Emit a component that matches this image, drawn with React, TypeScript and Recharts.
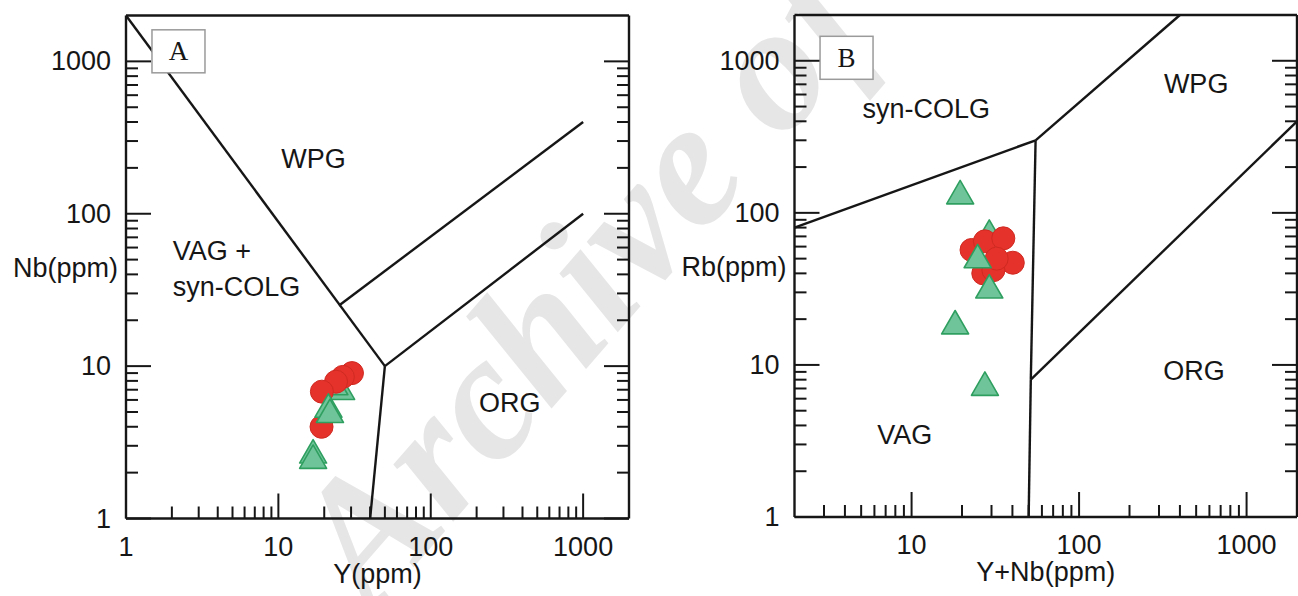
import { ReferenceDot, ReferenceLine, Scatter, ScatterChart, XAxis, YAxis } from "recharts";

const INK = "#161616";
const SANS = "'Liberation Sans', Arial, Helvetica, sans-serif";
const SERIF = "'Liberation Serif', 'Times New Roman', serif";
const FONT_SIZE = 27;

// tick values on the log axes
const ticksFrom1 = [1, 2, 3, 4, 5, 6, 7, 8, 9, 10, 20, 30, 40, 50, 60, 70, 80, 90, 100, 200, 300, 400, 500, 600, 700, 800, 900, 1000];
const ticksFrom3 = [3, 4, 5, 6, 7, 8, 9, 10, 20, 30, 40, 50, 60, 70, 80, 90, 100, 200, 300, 400, 500, 600, 700, 800, 900, 1000];
const majorTicks = [1, 10, 100, 1000];

// A: Nb vs Y
const nbYBoundaries = [
  [[1, 2000], [50, 10]],
  [[50, 10], [40, 1]],
  [[50, 10], [1000, 100]],
  [[25, 25], [1000, 400]],
];
const nbYRegions = [
  { text: "WPG", x: 17, y: 200, anchor: "middle" },
  { text: "VAG +", x: 2.03, y: 50, anchor: "start" },
  { text: "syn-COLG", x: 2.03, y: 29, anchor: "start" },
  { text: "ORG", x: 330, y: 5, anchor: "middle" },
];
const nbYCircles = [
  { x: 30.4, y: 9.0 },
  { x: 26.5, y: 8.5 },
  { x: 23.9, y: 7.9 },
  { x: 19.3, y: 6.8 },
  { x: 19.2, y: 4.0 },
];
const nbYTrianglesBack = [
  { x: 25.8, y: 6.8 },
  { x: 23.3, y: 7.3 },
];
const nbYTrianglesFront = [
  { x: 21.3, y: 5.2 },
  { x: 21.8, y: 4.8 },
  { x: 16.9, y: 2.6 },
  { x: 16.9, y: 2.4 },
];

// B: Rb vs Y+Nb
const rbBoundaries = [
  [[2, 80], [55, 300]],
  [[55, 300], [400, 2000]],
  [[55, 300], [51.5, 8]],
  [[51.5, 8], [50, 1]],
  [[51.5, 8], [2000, 400]],
];
const rbRegions = [
  { text: "syn-COLG", x: 5.1, y: 420, anchor: "start" },
  { text: "WPG", x: 500, y: 615, anchor: "middle" },
  { text: "VAG", x: 9.1, y: 3, anchor: "middle" },
  { text: "ORG", x: 485, y: 8, anchor: "middle" },
];
const rbCircles = [
  { x: 22.8, y: 57 },
  { x: 27.4, y: 65 },
  { x: 35.3, y: 68 },
  { x: 40.2, y: 47 },
  { x: 26.8, y: 40 },
  { x: 30.8, y: 42 },
  { x: 32.2, y: 50 },
];
const rbTrianglesBack = [{ x: 29.1, y: 71 }];
const rbTrianglesFront = [
  { x: 19.5, y: 129 },
  { x: 24.8, y: 49 },
  { x: 29.1, y: 31 },
  { x: 18.2, y: 18 },
  { x: 27.4, y: 7.1 },
];

const AXIS_LINE = { stroke: INK, strokeWidth: 2.4 };

function tickLength(value: number) {
  return majorTicks.includes(value) ? 25 : 12;
}

function BottomTick({ x, y, payload }: any) {
  const v = payload.value;
  return (
    <g>
      <line x1={x} x2={x} y1={y} y2={y - tickLength(v)} stroke={INK} strokeWidth={2} />
      {majorTicks.includes(v) && (
        <text x={x} y={y + 37} textAnchor="middle" fontFamily={SANS} fontSize={FONT_SIZE} fill={INK}>
          {String(v)}
        </text>
      )}
    </g>
  );
}

function TopTick({ x, y, payload }: any) {
  return <line x1={x} x2={x} y1={y} y2={y + tickLength(payload.value)} stroke={INK} strokeWidth={2} />;
}

function LeftTick({ x, y, payload }: any) {
  const v = payload.value;
  return (
    <g>
      <line x1={x} x2={x + tickLength(v)} y1={y} y2={y} stroke={INK} strokeWidth={2} />
      {majorTicks.includes(v) && (
        <text x={x - 15} y={y} textAnchor="end" dominantBaseline="central" fontFamily={SANS} fontSize={FONT_SIZE} fill={INK}>
          {String(v)}
        </text>
      )}
    </g>
  );
}

function RightTick({ x, y, payload }: any) {
  return <line x1={x} x2={x - tickLength(payload.value)} y1={y} y2={y} stroke={INK} strokeWidth={2} />;
}

function CircleMark({ cx, cy }: any) {
  return <circle cx={cx} cy={cy} r={11.5} fill="#e5322a" stroke="#cf2a22" strokeWidth={1} />;
}

function TriangleMark({ cx, cy }: any) {
  const w = 27;
  const h = 23.4;
  return (
    <path
      d={`M${cx},${cy - (2 * h) / 3} L${cx + w / 2},${cy + h / 3} L${cx - w / 2},${cy + h / 3} Z`}
      fill="#70c499"
      stroke="#2f9f60"
      strokeWidth={1.6}
      strokeLinejoin="round"
    />
  );
}

function TagBox({ cx, cy, label }: any) {
  return (
    <g>
      <rect x={cx - 26.5} y={cy - 21.5} width={53} height={43} fill="#fff" stroke="#9a9a9a" strokeWidth={1.5} />
      <text x={cx} y={cy + 9} textAnchor="middle" fontFamily={SERIF} fontSize={27} fill={INK}>
        {label}
      </text>
    </g>
  );
}

function DiagramPanel(props: any) {
  const { left, width, margin, xDomain, xTicks, xTitle, yTitle, tag, tagAt, boundaries, regions } = props;
  const yDomain = [1, 2000];
  return (
    <div style={{ position: "absolute", left, top: 0 }}>
      <ScatterChart width={width} height={596} margin={margin}>
        <XAxis
          dataKey="x"
          type="number"
          scale="log"
          domain={xDomain}
          allowDataOverflow
          ticks={xTicks}
          interval={0}
          tickLine={false}
          tickSize={0}
          tickMargin={0}
          height={1}
          axisLine={AXIS_LINE}
          tick={(p: any) => <BottomTick {...p} />}
          label={{ value: xTitle, position: "bottom", offset: 44, fill: INK, fontSize: FONT_SIZE, fontFamily: SANS }}
        />
        <XAxis
          xAxisId="top"
          orientation="top"
          type="number"
          scale="log"
          domain={xDomain}
          allowDataOverflow
          ticks={xTicks}
          interval={0}
          tickLine={false}
          tickSize={0}
          tickMargin={0}
          height={1}
          axisLine={AXIS_LINE}
          tick={(p: any) => <TopTick {...p} />}
        />
        <YAxis
          dataKey="y"
          type="number"
          scale="log"
          domain={yDomain}
          allowDataOverflow
          ticks={ticksFrom1}
          interval={0}
          tickLine={false}
          tickSize={0}
          tickMargin={0}
          width={1}
          axisLine={AXIS_LINE}
          tick={(p: any) => <LeftTick {...p} />}
          label={{ value: yTitle, position: "left", offset: 7, fill: INK, fontSize: FONT_SIZE, fontFamily: SANS }}
        />
        <YAxis
          yAxisId="right"
          orientation="right"
          type="number"
          scale="log"
          domain={yDomain}
          allowDataOverflow
          ticks={ticksFrom1}
          interval={0}
          tickLine={false}
          tickSize={0}
          tickMargin={0}
          width={1}
          axisLine={AXIS_LINE}
          tick={(p: any) => <RightTick {...p} />}
        />
        {boundaries.map((seg: number[][], i: number) => (
          <ReferenceLine
            key={`b${i}`}
            segment={[
              { x: seg[0][0], y: seg[0][1] },
              { x: seg[1][0], y: seg[1][1] },
            ]}
            stroke={INK}
            strokeWidth={2.4}
            ifOverflow="visible"
          />
        ))}
        {regions.map((r: any) => (
          <ReferenceDot
            key={r.text}
            x={r.x}
            y={r.y}
            ifOverflow="visible"
            shape={(p: any) => (
              <text x={p.cx} y={p.cy} textAnchor={r.anchor} fontFamily={SANS} fontSize={FONT_SIZE} fill={INK}>
                {r.text}
              </text>
            )}
          />
        ))}
        <ReferenceDot x={tagAt.x} y={tagAt.y} ifOverflow="visible" shape={(p: any) => <TagBox {...p} label={tag} />} />
        <Scatter data={props.trianglesBack} shape={(p: any) => <TriangleMark {...p} />} isAnimationActive={false} />
        <Scatter data={props.circles} shape={(p: any) => <CircleMark {...p} />} isAnimationActive={false} />
        <Scatter data={props.trianglesFront} shape={(p: any) => <TriangleMark {...p} />} isAnimationActive={false} />
      </ScatterChart>
    </div>
  );
}

export default function App() {
  return (
    <div style={{ position: "absolute", left: 0, top: 0, width: 1298, height: 596, background: "#fff", overflow: "hidden" }}>
      <svg width={1298} height={596} style={{ position: "absolute", left: 0, top: 0 }}>
        <text
          transform="translate(372,615) rotate(-49)"
          fontFamily={SERIF}
          fontStyle="italic"
          fontWeight="bold"
          fontSize={180}
          fill="#e6e6e6"
        >
          Archive of SID
        </text>
      </svg>
      <DiagramPanel
        left={0}
        width={650}
        margin={{ top: 14.5, right: 20, bottom: 76.5, left: 125 }}
        xDomain={[1, 2000]}
        xTicks={ticksFrom1}
        xTitle="Y(ppm)"
        yTitle="Nb(ppm)"
        tag="A"
        tagAt={{ x: 2.21, y: 1164 }}
        boundaries={nbYBoundaries}
        regions={nbYRegions}
        circles={nbYCircles}
        trianglesBack={nbYTrianglesBack}
        trianglesFront={nbYTrianglesFront}
      />
      <DiagramPanel
        left={650}
        width={648}
        margin={{ top: 14, right: 0, bottom: 78, left: 143.5 }}
        xDomain={[2, 2000]}
        xTicks={ticksFrom3}
        xTitle="Y+Nb(ppm)"
        yTitle="Rb(ppm)"
        tag="B"
        tagAt={{ x: 4.09, y: 1046 }}
        boundaries={rbBoundaries}
        regions={rbRegions}
        circles={rbCircles}
        trianglesBack={rbTrianglesBack}
        trianglesFront={rbTrianglesFront}
      />
    </div>
  );
}
